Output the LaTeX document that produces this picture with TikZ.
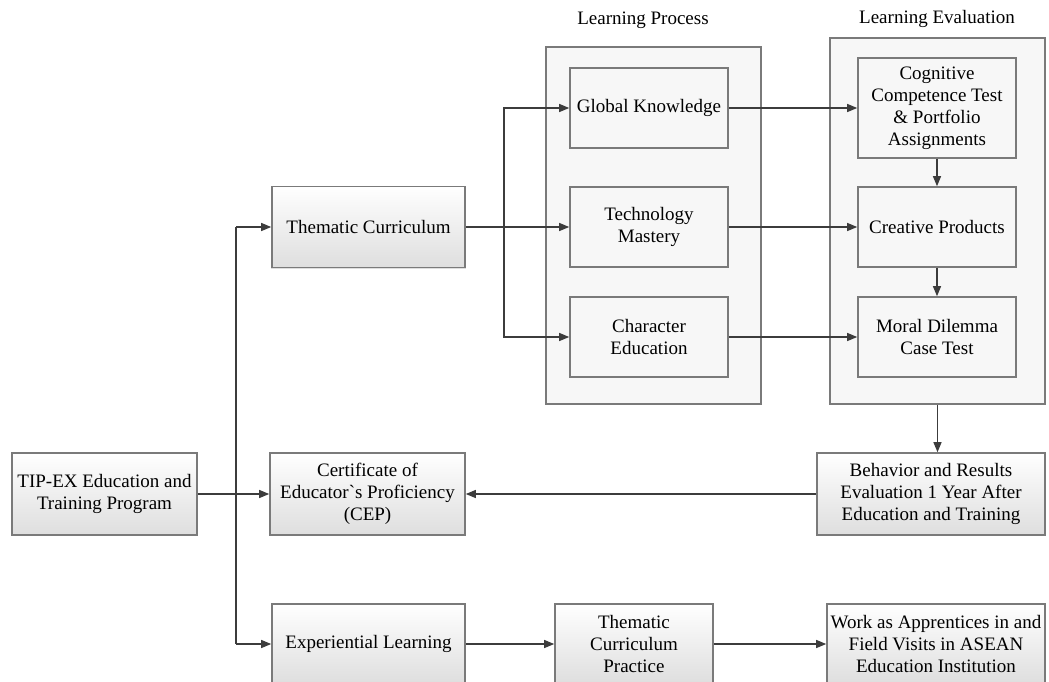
\documentclass[tikz,border=0pt]{standalone}
\usepackage{fontspec}
\setmainfont{Liberation Serif}
\newfontfamily\boxfont{Liberation Serif}
\usetikzlibrary{arrows.meta,backgrounds}
\definecolor{bordergray}{HTML}{7A7A7A}
\definecolor{linegray}{HTML}{3C3C3C}
\definecolor{contfill}{HTML}{F7F7F7}
\tikzset{
  box/.style={draw=bordergray, line width=1.6pt,
    align=center, inner sep=2pt, font=\boxfont\fontsize{19}{22}\selectfont},
  container/.style={draw=bordergray, line width=1.6pt, fill=contfill, inner sep=0pt},
  arr/.style={draw=linegray, line width=1.2pt, -{Triangle[length=10pt,width=8pt]}},
  ln/.style={draw=linegray, line width=1.2pt},
  title/.style={font=\boxfont\fontsize{19}{22}\selectfont, inner sep=0pt}
}
\begin{document}
\begin{tikzpicture}[x=1pt,y=-1pt]
\useasboundingbox (0,0) rectangle (1049,681);
\clip (0,0) rectangle (1049,681);
% titles
\node[title] (lpt) at (643,20) {Learning Process};
\node[title] (let) at (937,19) {Learning Evaluation};
% containers
\node[container, minimum width=215pt, minimum height=357pt] (lp) at (653.5,225.5) {};
\node[container, minimum width=215pt, minimum height=366pt] (le) at (937.5,221) {};
% learning process boxes
\node[box, minimum width=158pt, minimum height=80pt] (gk) at (649,108) {Global Knowledge};
\node[box, minimum width=158pt, minimum height=80pt] (tm) at (649,227) {Technology\\Mastery};
\node[box, minimum width=158pt, minimum height=80pt] (ce) at (649,337) {Character\\Education};
% evaluation boxes
\node[box, minimum width=158pt, minimum height=100pt] (cog) at (937,108) {Cognitive\\Competence Test\\\& Portfolio\\Assignments};
\node[box, minimum width=158pt, minimum height=80pt] (cp) at (937,227) {Creative Products};
\node[box, minimum width=158pt, minimum height=80pt] (md) at (937,337) {Moral Dilemma\\Case Test};
% left column
\node[box, minimum width=193pt, minimum height=81pt] (tc) at (368.5,227) {Thematic Curriculum};
\node[box, minimum width=185pt, minimum height=82pt] (tip) at (104.5,494) {TIP-EX Education and\\Training Program};
\node[box, minimum width=195pt, minimum height=82pt] (cert) at (367.5,494) {Certificate of\\Educator{`}s Proficiency\\(CEP)};
\node[box, minimum width=228pt, minimum height=82pt] (beh) at (931,494) {Behavior and Results\\Evaluation 1 Year After\\Education and Training};
% bottom row
\node[box, minimum width=193pt, minimum height=80pt] (exp) at (368.5,644) {Experiential Learning};
\node[box, minimum width=158pt, minimum height=80pt] (tcp) at (634,644) {Thematic\\Curriculum\\Practice};
\node[box, minimum width=218pt, minimum height=80pt] (work) at (936,644) {Work as Apprentices in and\\Field Visits in ASEAN\\Education Institution};
% gradient fills behind the boxes
\begin{scope}[on background layer]
\foreach \n in {gk,tm,ce,cog,cp,md,tc,tip,cert,beh,exp,tcp,work}
  \shade[top color=white, bottom color=black!13] (\n.north west) rectangle (\n.south east);
\end{scope}
% connectors
\coordinate (vt) at (236,227);
\coordinate (vb) at (236,644);
\coordinate (bx) at (504,227);
\draw[ln] (vt) -- (vb);
\draw[arr] (vt) -- (tc.west);
\draw[arr] (vb) -- (exp.west);
\draw[arr] (tip.east) -- (cert.west);
\draw[arr] (tc.east) -- (tm.west);
\draw[arr] (bx) |- (gk.west);
\draw[arr] (bx) |- (ce.west);
\draw[arr] (gk.east) -- (cog.west);
\draw[arr] (tm.east) -- (cp.west);
\draw[arr] (ce.east) -- (md.west);
\draw[arr] (cog.south) -- (cp.north);
\draw[arr] (cp.south) -- (md.north);
\draw[arr] (le.south) -- (le.south |- beh.north);
\draw[arr] (beh.west) -- (cert.east);
\draw[arr] (exp.east) -- (tcp.west);
\draw[arr] (tcp.east) -- (work.west);
\end{tikzpicture}
\end{document}
